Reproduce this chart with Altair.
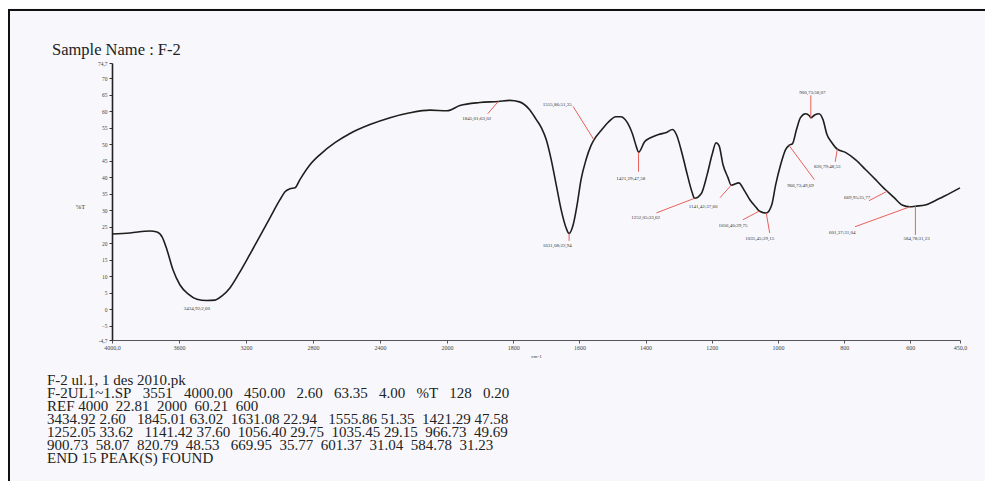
import altair as alt
import pandas as pd

# ---- spectrum ----
wavenumber = [4000, 3893, 3773, 3731, 3701, 3672, 3636, 3594, 3546, 3493, 3434.92, 3385, 3343, 3296,
              3236, 3176, 3116, 3057, 2997, 2967, 2937, 2907, 2878, 2818, 2758, 2669, 2579, 2460,
              2340, 2221, 2102, 2000, 1961, 1901, 1845.01, 1811, 1781, 1751, 1730, 1715, 1700, 1685,
              1670, 1655, 1640, 1631.08, 1619, 1607, 1595, 1580, 1565, 1555.86, 1532, 1511, 1490,
              1475, 1457, 1439, 1427, 1421.29, 1403, 1385, 1361, 1337, 1319, 1307, 1289, 1274, 1259,
              1252.05, 1232, 1214, 1199, 1187, 1178, 1166, 1151, 1141.42, 1118, 1103, 1085, 1067,
              1056.40, 1035.45, 1019, 1007, 992, 977, 966.73, 956, 944, 932, 917, 905, 900.73, 888,
              876, 864, 852, 837, 820.79, 795, 765, 735, 705, 681, 669.95, 649, 625, 601.37, 584.78,
              555, 525, 495, 450]
transmittance = [22.8, 23.1, 23.7, 23.4, 21.9, 18.0, 11.9, 7.3, 4.6, 3.0, 2.6, 2.7, 4.0, 6.4,
                 11.3, 16.7, 22.2, 27.7, 33.2, 35.6, 36.5, 36.8, 39.3, 43.8, 46.9, 50.5, 53.3, 56.0,
                 58.1, 59.6, 60.4, 60.2, 61.8, 62.7, 63.02, 63.35, 62.9, 60.6, 57.5, 55.1, 51.4, 45.3,
                 37.7, 30.1, 24.6, 22.94, 25.5, 31.6, 39.3, 45.3, 49.6, 51.35, 54.5, 56.9, 58.4,
                 58.4, 56.9, 53.0, 49.0, 47.58, 50.8, 52.0, 53.0, 53.6, 54.5, 53.0, 46.9, 40.8, 35.3,
                 33.62, 35.0, 40.8, 46.9, 50.5, 49.6, 43.8, 39.9, 37.60, 38.3, 36.2, 33.2, 31.0,
                 29.75, 29.15, 31.6, 37.7, 43.8, 48.4, 49.69, 50.2, 54.5, 58.1, 59.3, 58.7, 58.07, 59.0,
                 59.3, 57.5, 53.0, 50.5, 48.53, 47.5, 45.3, 42.3, 39.3, 36.8, 35.77, 33.8, 31.6, 31.04, 31.23,
                 31.6, 32.9, 34.4, 36.8]

# ---- peak table ----
peak_wn = [3434.92, 1845.01, 1631.08, 1555.86, 1421.29, 1252.05, 1141.42, 1056.40, 1035.45,
           966.73, 900.73, 820.79, 669.95, 601.37, 584.78]
peak_t = [2.60, 63.02, 22.94, 51.35, 47.58, 33.62, 37.60, 29.75, 29.15,
          49.69, 58.07, 48.53, 35.77, 31.04, 31.23]

# label placement (layout): label centre and end of leader line, in axis units
label_wn = [3493, 1910, 1667, 1667, 1445, 1400, 1226, 1136, 1055, 932, 896, 851, 761, 806, 581]
label_t = [0.3, 58.1, 19.5, 62.4, 39.9, 28.0, 31.3, 25.6, 21.6, 37.7, 66.0, 43.5, 34.1, 23.4, 21.6]
lead_wn = [3434.92, 1877, 1631.08, 1619, 1421.29, 1367, 1175, 1106, 1025, 890, 900.73, 827, 725, 767, 584.78]
lead_t = [2.6, 59.3, 20.7, 61.5, 41.7, 29.2, 33.8, 27.1, 23.1, 39.3, 64.9, 44.7, 32.9, 25.0, 22.5]

x_ticks = [4000, 3600, 3200, 2800, 2400, 2000, 1800, 1600, 1400, 1200, 1000, 800, 600, 450]
y_ticks = [-9.4, -5, 0, 5, 10, 15, 20, 25, 30, 35, 40, 45, 50, 55, 60, 65, 70, 74.7]

NB = "\u00a0"
S2 = NB * 2
S3 = NB * 3
header = "Sample Name : F-2"
report_lines = [
    "F-2 ul.1, 1 des 2010.pk",
    S3.join(["F-2UL1~1.SP", "3551", "4000.00", "450.00", "2.60", "63.35", "4.00", "%T", "128", "0.20"]),
    "REF 4000" + S2 + S2.join(["22.81", "2000", "60.21", "600"]),
    f"3434.92{NB}2.60{S3}1845.01{NB}63.02{S2}1631.08{NB}22.94{S3}1555.86{NB}51.35{S2}1421.29{NB}47.58",
    f"1252.05{NB}33.62{S3}1141.42{NB}37.60{S2}1056.40{NB}29.75{S2}1035.45{NB}29.15{S2}966.73{S2}49.69",
    f"900.73{S2}58.07{S2}820.79{S2}48.53{S3}669.95{S2}35.77{S2}601.37{S2}31.04{S2}584.78{S2}31.23",
    "END 15 PEAK(S) FOUND",
]

spec = pd.DataFrame({"wn": wavenumber, "t": transmittance})
peaks = pd.DataFrame({
    "wn": peak_wn, "t": peak_t,
    "lwn": label_wn, "lt": label_t, "ewn": lead_wn, "et": lead_t,
    "txt": [f"{w:.2f};{t:.2f}".replace(".", ",") for w, t in zip(peak_wn, peak_t)],
})
one = pd.DataFrame({"a": [0]})

W, H = 848, 277
SERIF = "Liberation Serif"

xscale = alt.Scale(domain=[4000, 2000, 450], range=[0, 335, W], nice=False, zero=False)
yscale = alt.Scale(domain=[-9.4, 74.7], nice=False, zero=False)


def xaxis():
    return alt.Axis(values=x_ticks, title="cm-1", titleX=424, titleY=13, titleFontSize=5,
                    titleFont=SERIF, titleFontWeight="normal", titleColor="#333",
                    labelExpr="datum.value == 4000 ? '4000,0' : datum.value == 450 ? '450,0' : format(datum.value, 'd')",
                    labelFont=SERIF, labelFontSize=6, labelColor="#444", labelPadding=1,
                    tickSize=3, tickColor="#555", domainColor="#555", domainWidth=1.2, grid=False,
                    labelFlush=False, labelOverlap=False)


def yaxis():
    return alt.Axis(values=y_ticks, title="%T", titleAngle=0, titleX=-32, titleY=143,
                    titleAlign="center", titleBaseline="middle", titleFontSize=6.5, titleFont=SERIF,
                    titleFontWeight="normal", titleColor="#333",
                    labelExpr="datum.value == 74.7 ? '74,7' : datum.value == -9.4 ? '-4,7' : format(datum.value, 'd')",
                    labelFont=SERIF, labelFontSize=5.5, labelColor="#444", labelPadding=2,
                    tickSize=3, tickColor="#333", domainColor="#222", domainWidth=1.6, grid=False,
                    labelFlush=False, labelOverlap=False, labelSeparation=0)


line = alt.Chart(spec).mark_line(color="#1e1e1e", strokeWidth=1.6, interpolate="monotone").encode(
    x=alt.X("wn:Q", scale=xscale, axis=xaxis()),
    y=alt.Y("t:Q", scale=yscale, axis=yaxis()),
    order="wn:Q")

leaders = alt.Chart(peaks).mark_rule(color="#e8605a", strokeWidth=1).encode(
    x=alt.X("wn:Q", scale=xscale, axis=xaxis()), y=alt.Y("t:Q", scale=yscale, axis=yaxis()),
    x2="ewn:Q", y2="et:Q")

labels = alt.Chart(peaks).mark_text(font=SERIF, fontSize=5, color="#333", baseline="middle").encode(
    x=alt.X("lwn:Q", scale=xscale, axis=xaxis()), y=alt.Y("lt:Q", scale=yscale, axis=yaxis()),
    text="txt:N")

title = alt.Chart(one).mark_text(font=SERIF, fontSize=16.5, color="#222", align="left",
                                 baseline="alphabetic").encode(
    x=alt.value(-60), y=alt.value(-8), text=alt.value(header))

report = alt.Chart(one).mark_text(font=SERIF, fontSize=15, color="#222", align="left",
                                  baseline="alphabetic", lineHeight=13).encode(
    x=alt.value(-65), y=alt.value(322), text=alt.value(report_lines))

frame_top = alt.Chart(one).mark_rule(color="#111", strokeWidth=2).encode(
    x=alt.value(-104), x2=alt.value(880), y=alt.value(-53))
frame_left = alt.Chart(one).mark_rule(color="#111", strokeWidth=2).encode(
    x=alt.value(-103), y=alt.value(-53), y2=alt.value(420))

chart = alt.layer(frame_top, frame_left, line, leaders, labels, title, report).properties(
    width=W, height=H,
    autosize=alt.AutoSizeParams(type="none"),
    padding={"left": 104, "top": 55, "right": 25, "bottom": 141},
    background="#f8f8fc",
).configure_view(stroke=None).configure_axis(labelOverlap=False)

chart.save("out.html", embed_options={"renderer": "svg", "actions": False})
